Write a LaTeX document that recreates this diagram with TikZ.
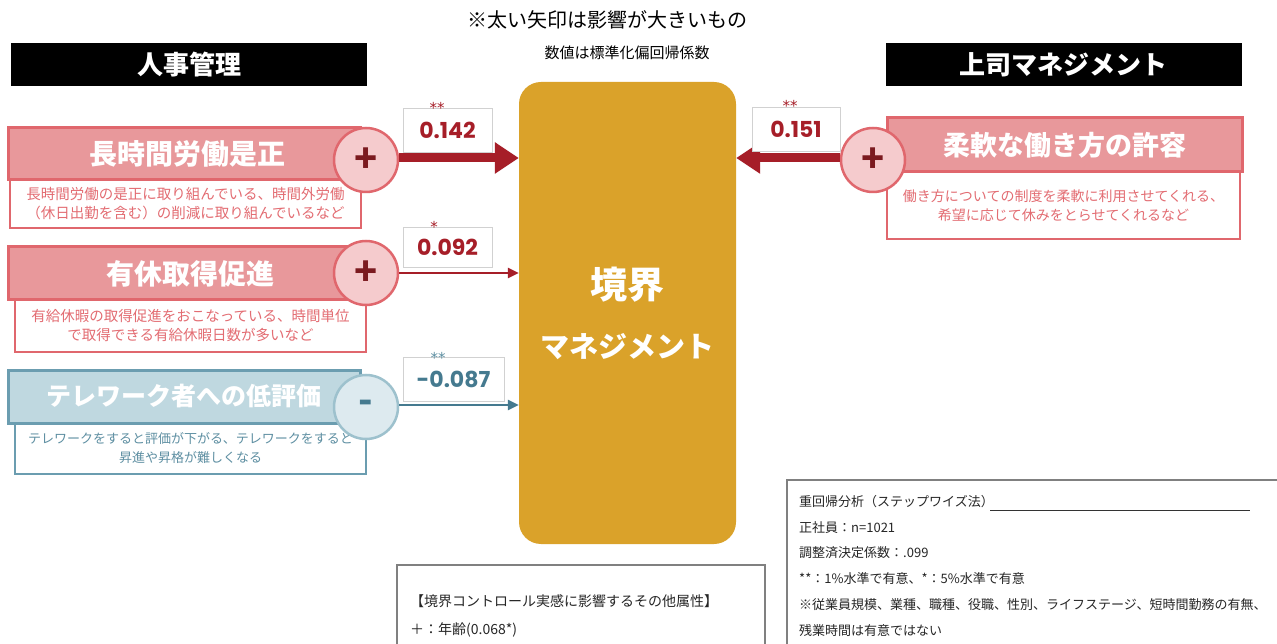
\documentclass[tikz,border=0pt]{standalone}
\usepackage{fontspec}
\setmainfont{Noto Sans CJK JP}
\newfontfamily\numfont{Poppins}
\newfontfamily\starfont{DejaVu Sans}
\usetikzlibrary{arrows.meta}
\definecolor{gold}{HTML}{DAA22A}
\definecolor{redD}{HTML}{A61E28}
\definecolor{redB}{HTML}{E0676D}
\definecolor{redF}{HTML}{E8989B}
\definecolor{redC}{HTML}{F5CBCD}
\definecolor{redT}{HTML}{E36C72}
\definecolor{redP}{HTML}{7B1A1F}
\definecolor{bluB}{HTML}{6B9DB0}
\definecolor{bluF}{HTML}{BFD8E0}
\definecolor{bluC}{HTML}{DDEAEF}
\definecolor{bluCB}{HTML}{9DC1CD}
\definecolor{bluD}{HTML}{457A8F}
\definecolor{bluT}{HTML}{5E8FA2}
\newcommand{\fs}[2]{\fontsize{#1}{#2}\selectfont}
\begin{document}
\begin{tikzpicture}[x=1pt,y=-1pt,
  blackbox/.style={fill=black, text=white, font=\fs{26}{30}\bfseries, minimum width=356, minimum height=43, inner sep=0},
  hdrred/.style={fill=redF, draw=redB, line width=3, text=white, font=\fs{28}{32}\bfseries, inner sep=0},
  hdrblu/.style={fill=bluF, draw=bluB, line width=3, text=white, font=\fs{25}{30}\bfseries, inner sep=0},
  descred/.style={fill=white, draw=redB, line width=1.5, text=redT, font=\fs{14.5}{19}, align=center, inner sep=0},
  descblu/.style={fill=white, draw=bluB, line width=1.5, text=bluT, font=\fs{13}{19}, align=center, inner sep=0},
  sigred/.style={circle, fill=redC, draw=redB, line width=2.5, minimum size=64, inner sep=0, text=redP, font=\fs{38}{38}\bfseries},
  sigblu/.style={circle, fill=bluC, draw=bluCB, line width=2.5, minimum size=64, inner sep=0, text=bluD, font=\fs{38}{38}\bfseries},
  numbox/.style={fill=white, draw=black!18, line width=0.8, inner sep=0, font=\fs{22}{24}\numfont\bfseries},
  stars/.style={font=\fs{15}{15}\starfont, inner sep=0},
  bigarrow/.style={draw=redD, line width=9, -{Triangle[length=24pt,width=30pt]}},
  thinred/.style={draw=redD, line width=2.5, -{Triangle[length=11pt,width=10pt]}},
  thinblu/.style={draw=bluD, line width=2.5, -{Triangle[length=11pt,width=10pt]}},
  note/.style={font=\fs{13}{25.8}, align=left, inner sep=0, anchor=north west, text=black!85}
]
\useasboundingbox[fill=white] (0,0) rectangle (1277,644);

% titles
\node[font=\fs{20}{22}, inner sep=0] (t1) at (607,20) {※太い矢印は影響が大きいもの};
\node[font=\fs{15}{17}, inner sep=0] (t2) at (627,53) {数値は標準化偏回帰係数};

\node[blackbox] (hr) at (189,64.5) {人事管理};
\node[blackbox] (boss) at (1063.5,64.5) {上司マネジメント};

% center box
\node[fill=gold, rounded corners=22, minimum width=217, minimum height=462, inner sep=0,
      text=white, font=\bfseries, align=center] (mb) at (627.5,313) {{\fs{37}{40}境界}\\[30pt]{\fs{29}{32}マネジメント}};

% left 1
\node[descred, minimum width=351, minimum height=48] (d1) at (185.5,204) {長時間労働の是正に取り組んでいる、時間外労働\\（休日出勤を含む）の削減に取り組んでいるなど};
\node[hdrred, minimum width=352, minimum height=52] (h1) at (184,154) {\hspace*{6pt}長時間労働是正};
\node[sigred] (c1) at (366,160) {+};

% left 2
\node[descred, minimum width=351, minimum height=52] (d2) at (190.5,326) {有給休暇の取得促進をおこなっている、時間単位\\で取得できる有給休暇日数が多いなど};
\node[hdrred, minimum width=352, minimum height=53] (h2) at (184,273.5) {\hspace*{12pt}有休取得促進};
\node[sigred] (c2) at (366,273) {+};

% left 3
\node[descblu, minimum width=351, minimum height=51] (d3) at (190.5,448.5) {テレワークをすると評価が下がる、テレワークをすると\\昇進や昇格が難しくなる};
\node[hdrblu, minimum width=352, minimum height=53] (h3) at (184,396.5) {テレワーク者への低評価};
\node[sigblu] (c3) at (366,407) {-};

% right
\node[descred, font=\fs{14}{19}, minimum width=353, minimum height=67] (d4) at (1063.5,205.5) {働き方についての制度を柔軟に利用させてくれる、\\希望に応じて休みをとらせてくれるなど};
\node[hdrred, font=\fs{27}{30}\bfseries, minimum width=355, minimum height=54] (h4) at (1064.5,145) {柔軟な働き方の許容};
\node[sigred] (c4) at (873,160) {+};

% arrows
\draw[bigarrow] (c1.east |- 0,158) -- (mb.west |- 0,158);
\draw[thinred] (c2.east) -- (mb.west |- c2);
\draw[thinblu] (c3.east |- 0,405) -- (mb.west |- 0,405);
\draw[bigarrow] (c4.west |- 0,158) -- (mb.east |- 0,158);

% number boxes
\node[numbox, text=redD, minimum width=89, minimum height=44] (n1) at (447.5,130) {0.142};
\node[stars, text=redD] (s1) at (437,108) {**};
\node[numbox, text=redD, minimum width=89, minimum height=40] (n2) at (447.5,247) {0.092};
\node[stars, text=redD] (s2) at (434,227) {*};
\node[numbox, text=bluD, minimum width=101, minimum height=44] (n3) at (453.5,379) {-0.087};
\node[stars, text=bluT] (s3) at (438,358) {**};
\node[numbox, text=redD, minimum width=88, minimum height=44] (n4) at (796,129) {0.151};
\node[stars, text=redD] (s4) at (790,106) {**};

% bottom right box
\draw[draw=black!50, line width=1.5] (787,480) rectangle (1300,700);
\node[note] (stat) at (799,495) {重回帰分析（ステップワイズ法）\\正社員：n=1021\\調整済決定係数：.099\\**：1\%水準で有意、*：5\%水準で有意\\※従業員規模、業種、職種、役職、性別、ライフステージ、短時間勤務の有無、\\残業時間は有意ではない};
\draw[black!80, line width=0.8] (990,510) -- (1250,510);

% bottom center box
\draw[draw=black!50, line width=1.2] (397,565) rectangle (765,700);
\node[note, font=\fs{14}{28}] (other) at (410,594) {【境界コントロール実感に影響するその他属性】\\＋：年齢(0.068*)};
\end{tikzpicture}
\end{document}
